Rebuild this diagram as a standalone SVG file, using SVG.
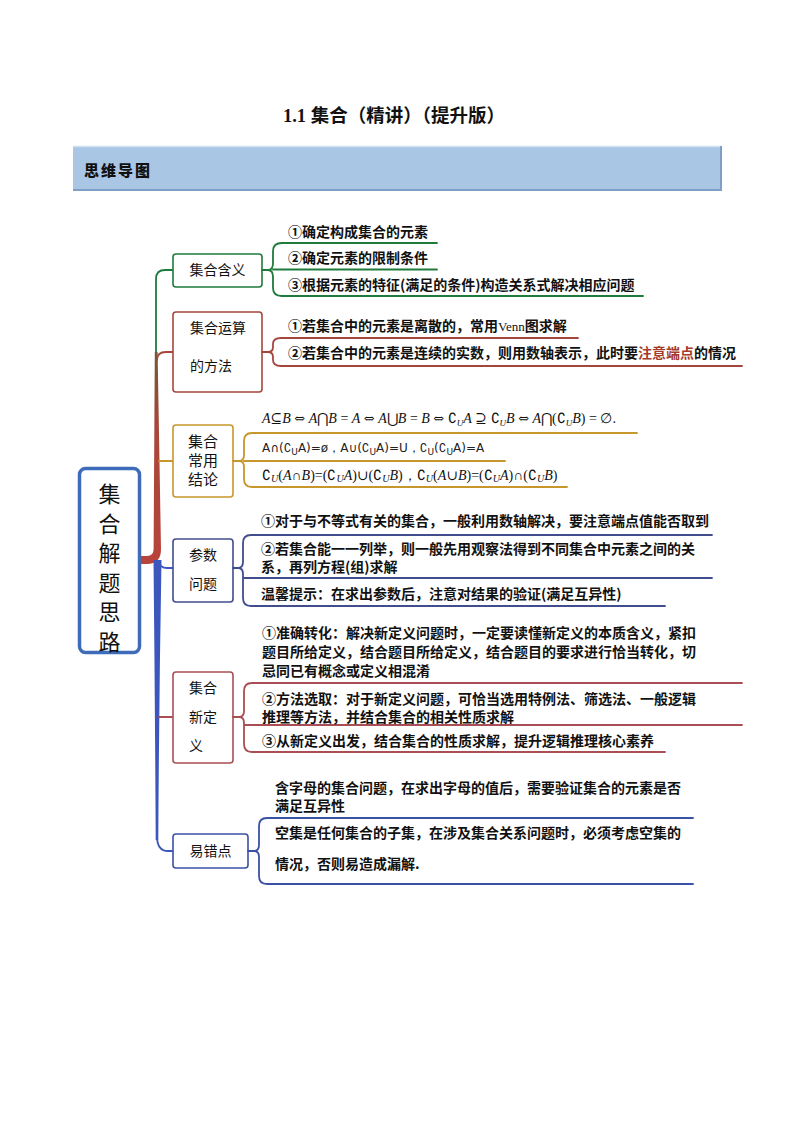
<svg xmlns="http://www.w3.org/2000/svg" width="794" height="1123" viewBox="0 0 794 1123">
<style>
.t{font-family:"Noto Sans CJK SC","Liberation Sans",sans-serif;font-size:14px;font-weight:bold;fill:#111}
.b{font-family:"Noto Sans CJK SC","Liberation Sans",sans-serif;font-size:14px;fill:#111}
.m{font-family:"Liberation Serif","DejaVu Serif",serif;font-size:14px;fill:#111}
.ms{font-family:"DejaVu Sans","Liberation Sans",sans-serif;font-size:12px;fill:#222}
.i{font-style:italic}
.ar{font-family:"DejaVu Serif",serif;font-size:13px}
.box{fill:#fff;stroke-width:1.6}
.ln{fill:none;stroke-width:1.8;stroke-linecap:round}
</style>
<defs>
<linearGradient id="gRed" x1="0" y1="0" x2="0" y2="1">
<stop offset="0" stop-color="#6f5a36"/>
<stop offset="0.35" stop-color="#a8463a"/>
<stop offset="1" stop-color="#b8443a"/>
</linearGradient>
</defs>
<rect width="794" height="1123" fill="#fff"/>

<g id="title">
<text x="394" y="122" text-anchor="middle" style="font-family:'Noto Sans CJK SC','Liberation Serif',serif;font-size:18.5px;font-weight:bold" fill="#111"><tspan style="font-family:'Liberation Serif',serif">1.1 </tspan>集合（精讲）（提升版）</text>
</g>

<g id="header">
<rect x="73" y="146" width="649" height="44" fill="#a9c6e4"/>
<path d="M73 146.5 H722" stroke="#cfe0f1" stroke-width="1.5"/>
<path d="M721 146 V190 H73" fill="none" stroke="#7f9fc6" stroke-width="2"/>
<text x="84" y="176" letter-spacing="2" style="font-family:'Noto Sans CJK SC',sans-serif;font-size:15px;font-weight:900" fill="#111">思维导图</text>
</g>

<g id="connectors">
<path class="ln" d="M173 270 H165 Q156 270 156 279 V354" stroke="#1e7b3c" stroke-width="2.4"/>
<path d="M154.8 352 L157.6 352 L161 549 Q161 564 147 564 L140 564 L140 556 L147 556 Q153.6 556 153.6 549 Z" fill="url(#gRed)"/>
<path class="ln" d="M157 360 Q157 352 166 352 H173" stroke="#a5463c" stroke-width="2"/>
<path class="ln" d="M159 461 H173" stroke="#c8972b" stroke-width="2"/>
<path d="M153.5 560 L161.5 560 Q159 700 158.3 840 L155.7 840 Q155 700 153.5 560 Z" fill="#3b57bd"/>
<path class="ln" d="M158 561 Q160 568 167 568 H173" stroke="#3b57bd" stroke-width="2.4"/>
<path class="ln" d="M157 836 Q157 851 168 851 H173" stroke="#3b57bd" stroke-width="2.2"/>
<path class="ln" d="M159 717 H173" stroke="#a94e55" stroke-width="2"/>
</g>

<g id="root">
<rect x="79.5" y="468.5" width="60" height="184" rx="6" fill="#fff" stroke="#3e6cb8" stroke-width="3.5"/>
<g style="font-family:'Noto Sans CJK SC',serif;font-size:22px" fill="#111" text-anchor="middle">
<text x="109.5" y="502">集</text>
<text x="109.5" y="531.5">合</text>
<text x="109.5" y="561">解</text>
<text x="109.5" y="590.5">题</text>
<text x="109.5" y="620">思</text>
<text x="109.5" y="649.5">路</text>
</g>
</g>

<g id="n1">
<rect class="box" x="173" y="254" width="89" height="33" rx="3" stroke="#1e7b3c"/>
<text class="b" x="217.5" y="275" text-anchor="middle">集合含义</text>
<path class="ln" stroke="#1e7b3c" d="M262 270 H268 M282 243 Q273 243 273 251 V263 Q273 270 268 270 Q273 270 273 277 V288 Q273 296 282 296 M281 243 H437 M273 269.5 H437 M281 296 H643"/>
<text class="t" x="288" y="237">①确定构成集合的元素</text>
<text class="t" x="288" y="263">②确定元素的限制条件</text>
<text class="t" x="288" y="290">③根据元素的特征(满足的条件)构造关系式解决相应问题</text>
</g>

<g id="n2">
<rect class="box" x="173" y="312" width="89" height="80" rx="3" stroke="#a5463c"/>
<text class="b" x="190" y="333">集合运算</text>
<text class="b" x="190" y="371">的方法</text>
<path class="ln" stroke="#a5463c" d="M262 352 H268 M281 338 Q273 338 273 344 V347 Q273 352 268 352 Q273 352 273 357 V360 Q273 366 281 366 M281 338 H578 M281 366 H742"/>
<text class="t" x="288" y="331">①若集合中的元素是离散的，常用<tspan style="font-family:'Liberation Serif',serif;font-weight:normal;font-size:13px">Venn</tspan>图求解</text>
<text class="t" x="288" y="358">②若集合中的元素是连续的实数，则用数轴表示，此时要<tspan fill="#a53a2a">注意端点</tspan>的情况</text>
</g>

<g id="n3">
<rect class="box" x="173" y="425" width="60" height="72" rx="3" stroke="#c8972b"/>
<g style="font-family:'Noto Sans CJK SC',sans-serif;font-size:15px" fill="#111" text-anchor="middle">
<text x="203" y="447">集合</text>
<text x="203" y="466">常用</text>
<text x="203" y="485">结论</text>
</g>
<path class="ln" stroke="#c8972b" d="M233 461 H239 M252 433 Q244 433 244 441 V455 Q244 461 239 461 Q244 461 244 467 V479 Q244 487 252 487 M252 433 H637 M244 461 H505 M252 487 H567"/>
<text class="m" x="262" y="423"><tspan class="i">A</tspan>⊆<tspan class="i">B</tspan> <tspan class="ar">⇔</tspan> <tspan class="i">A</tspan>⋂<tspan class="i">B</tspan> = <tspan class="i">A</tspan> <tspan class="ar">⇔</tspan> <tspan class="i">A</tspan>⋃<tspan class="i">B</tspan> = <tspan class="i">B</tspan> <tspan class="ar">⇔</tspan> ∁<tspan class="i" font-size="9" dy="3">U</tspan><tspan class="i" dy="-3">A</tspan> ⊇ ∁<tspan class="i" font-size="9" dy="3">U</tspan><tspan class="i" dy="-3">B</tspan> <tspan class="ar">⇔</tspan> <tspan class="i">A</tspan>⋂(∁<tspan class="i" font-size="9" dy="3">U</tspan><tspan class="i" dy="-3">B</tspan>) = ∅.</text>
<text class="ms" x="262" y="452">A∩(∁<tspan font-size="9" dy="3">U</tspan><tspan dy="-3">A)=ø，A∪(∁</tspan><tspan font-size="9" dy="3">U</tspan><tspan dy="-3">A)=U，∁</tspan><tspan font-size="9" dy="3">U</tspan><tspan dy="-3">(∁</tspan><tspan font-size="9" dy="3">U</tspan><tspan dy="-3">A)=A</tspan></text>
<text class="m" x="262" y="480">∁<tspan class="i" font-size="10" dy="2">U</tspan><tspan dy="-2">(</tspan><tspan class="i">A</tspan>∩<tspan class="i">B</tspan>)=(∁<tspan class="i" font-size="10" dy="2">U</tspan><tspan class="i" dy="-2">A</tspan>)∪(∁<tspan class="i" font-size="10" dy="2">U</tspan><tspan class="i" dy="-2">B</tspan>)，∁<tspan class="i" font-size="10" dy="2">U</tspan><tspan dy="-2">(</tspan><tspan class="i">A</tspan>∪<tspan class="i">B</tspan>)=(∁<tspan class="i" font-size="10" dy="2">U</tspan><tspan class="i" dy="-2">A</tspan>)∩(∁<tspan class="i" font-size="10" dy="2">U</tspan><tspan class="i" dy="-2">B</tspan>)</text>
</g>

<g id="n4">
<rect class="box" x="173" y="539" width="60" height="63" rx="3" stroke="#414d8c"/>
<text class="b" x="189" y="560">参数</text>
<text class="b" x="189" y="589">问题</text>
<path class="ln" stroke="#414d8c" d="M233 568 H238 M251 535 Q243 535 243 543 V562 Q243 568 238 568 Q243 568 243 574 V598 Q243 606 251 606 M251 535 H712 M243 578 H712 M251 606 H665"/>
<text class="t" x="261" y="526">①对于与不等式有关的集合，一般利用数轴解决，要注意端点值能否取到</text>
<text class="t" x="261" y="554">②若集合能一一列举，则一般先用观察法得到不同集合中元素之间的关</text>
<text class="t" x="261" y="572">系，再列方程(组)求解</text>
<text class="t" x="261" y="599">温馨提示：在求出参数后，注意对结果的验证(满足互异性)</text>
</g>

<g id="n5">
<rect class="box" x="173" y="672" width="60" height="91" rx="3" stroke="#a94e55"/>
<text class="b" x="189" y="693">集合</text>
<text class="b" x="189" y="722">新定</text>
<text class="b" x="189" y="751">义</text>
<path class="ln" stroke="#a94e55" d="M233 717 H239 M252 683 Q244 683 244 691 V711 Q244 717 239 717 Q244 717 244 723 V744 Q244 752 252 752 M252 683 H742 M244 725 H742 M252 752 H665"/>
<text class="t" x="262" y="638">①准确转化：解决新定义问题时，一定要读懂新定义的本质含义，紧扣</text>
<text class="t" x="262" y="657">题目所给定义，结合题目所给定义，结合题目的要求进行恰当转化，切</text>
<text class="t" x="262" y="676">忌同已有概念或定义相混淆</text>
<text class="t" x="262" y="704">②方法选取：对于新定义问题，可恰当选用特例法、筛选法、一般逻辑</text>
<text class="t" x="262" y="722">推理等方法，并结合集合的相关性质求解</text>
<text class="t" x="262" y="746">③从新定义出发，结合集合的性质求解，提升逻辑推理核心素养</text>
</g>

<g id="n6">
<rect class="box" x="173" y="834" width="75" height="34" rx="3" stroke="#3a52a5"/>
<text class="b" x="210.5" y="856" text-anchor="middle">易错点</text>
<path class="ln" stroke="#3a52a5" d="M248 851 H254 M267 818 Q259 818 259 826 V845 Q259 851 254 851 Q259 851 259 857 V876 Q259 884 267 884 M267 818 H693 M267 884 H693"/>
<text class="t" x="275" y="793">含字母的集合问题，在求出字母的值后，需要验证集合的元素是否</text>
<text class="t" x="275" y="811">满足互异性</text>
<text class="t" x="275" y="838">空集是任何集合的子集，在涉及集合关系问题时，必须考虑空集的</text>
<text class="t" x="275" y="869">情况，否则易造成漏解.</text>
</g>
</svg>
